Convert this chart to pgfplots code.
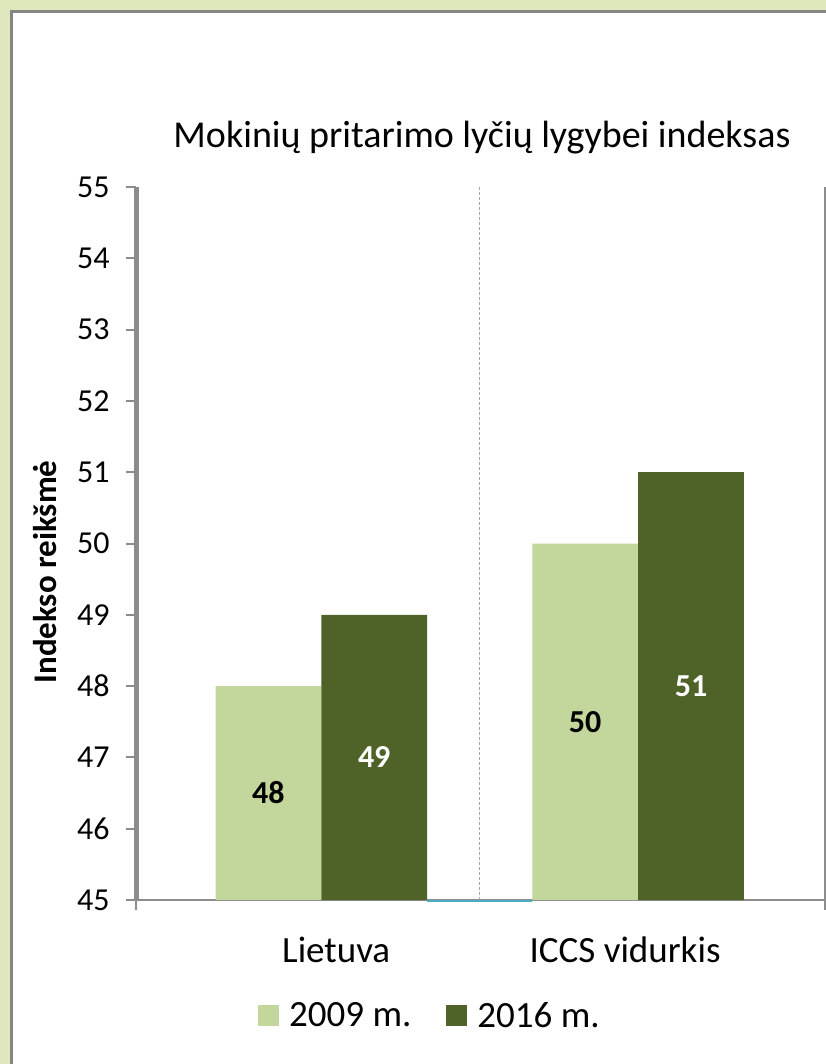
\documentclass[border=0pt]{standalone}
\usepackage{fontspec}
\setmainfont{Carlito}
\usepackage{pgfplots}
\pgfplotsset{compat=1.18}
\definecolor{lightg}{HTML}{C3D69B}
\definecolor{darkg}{HTML}{4F6228}
\definecolor{bgg}{HTML}{DEE8BC}
\definecolor{frameg}{HTML}{858585}
\definecolor{axisg}{HTML}{8C8C8C}
\definecolor{dashg}{HTML}{A6A6A6}
\definecolor{aqua}{HTML}{4BACC6}
\begin{document}
\begin{tikzpicture}
\useasboundingbox (0pt,0pt) rectangle (826pt,-1064pt);
\fill[bgg] (0pt,0pt) rectangle (826pt,-1064pt);
\fill[white] (11pt,-11pt) rectangle (826pt,-1064pt);
\draw[frameg, line width=3pt] (11.5pt,-1064pt) -- (11.5pt,-11.5pt) -- (826pt,-11.5pt);
\node[font=\fontsize{38}{45}\selectfont, anchor=base, inner sep=0pt] at (482pt,-148pt) {Mokinių pritarimo lyčių lygybei indeksas};
\node[font=\fontsize{33}{40}\selectfont\bfseries, rotate=90, anchor=base, inner sep=0pt] at (56pt,-572pt) {Indekso reikšmė};
\begin{axis}[
  at={(136pt,-900pt)}, anchor=south west,
  scale only axis, width=689pt, height=713pt,
  xmin=-0.585, xmax=1.59, ymin=45, ymax=55,
  clip=false,
  axis x line*=bottom, axis y line*=left,
  y axis line style={line width=5pt, color=axisg},
  x axis line style={line width=2pt, color=axisg},
  tick align=outside,
  major tick length=10pt,
  ytick={45,46,...,55},
  y tick style={line width=2pt, color=axisg},
  x tick style={line width=2pt, color=axisg},
  xtick={-0.585,1.59}, xticklabels={,},
  extra x ticks={0.047,0.959},
  extra x tick labels={Lietuva,ICCS vidurkis},
  extra x tick style={tick style={draw=none}, xticklabel style={anchor=center, yshift=-40pt, font=\fontsize{37}{44}\selectfont}},
  yticklabel style={anchor=east, xshift=-13pt, font=\fontsize{32}{38}\selectfont, text=black},
  /pgf/number format/assume math mode=true,
  legend columns=2,
  legend style={at={(axis description cs:0.177,-0.162)}, anchor=west, draw=none, fill=none, inner sep=0pt,
    font=\fontsize{37}{44}\selectfont,
    nodes={inner sep=0pt},
    /tikz/every odd column/.append style={column sep=10pt},
    /tikz/every even column/.append style={column sep=35pt}},
]
\draw[dashg, line width=1pt, dash pattern=on 3pt off 2pt] (axis cs:0.5,45) -- (axis cs:0.5,55);
\addplot[ybar, fill=lightg, draw=none, bar width=0.334, bar shift=-0.167,
  legend image code/.code={\fill[lightg] (0pt,-10pt) rectangle (21pt,11pt);}]
  coordinates {(0,48) (1,50)};
\addlegendentry{2009 m.}
\addplot[ybar, fill=darkg, draw=none, bar width=0.334, bar shift=0.167,
  legend image code/.code={\fill[darkg] (0pt,-10pt) rectangle (21pt,11pt);}]
  coordinates {(0,49) (1,51)};
\addlegendentry{2016 m.}
\addplot[forget plot, aqua, line width=2pt] coordinates {(0.334,44.985) (0.666,44.985)};
\addplot[forget plot, draw=none, mark=none, nodes near coords, point meta=explicit symbolic,
  nodes near coords style={anchor=center, font=\fontsize{32}{38}\selectfont\bfseries, text=black}]
  coordinates {(-0.167,46.5)[48] (0.833,47.5)[50]};
\addplot[forget plot, draw=none, mark=none, nodes near coords, point meta=explicit symbolic,
  nodes near coords style={anchor=center, font=\fontsize{32}{38}\selectfont\bfseries, text=white}]
  coordinates {(0.167,47)[49] (1.167,48)[51]};
\draw[axisg, line width=2.5pt] (axis cs:1.59,45) -- (axis cs:1.59,55);
\end{axis}
\end{tikzpicture}
\end{document}
